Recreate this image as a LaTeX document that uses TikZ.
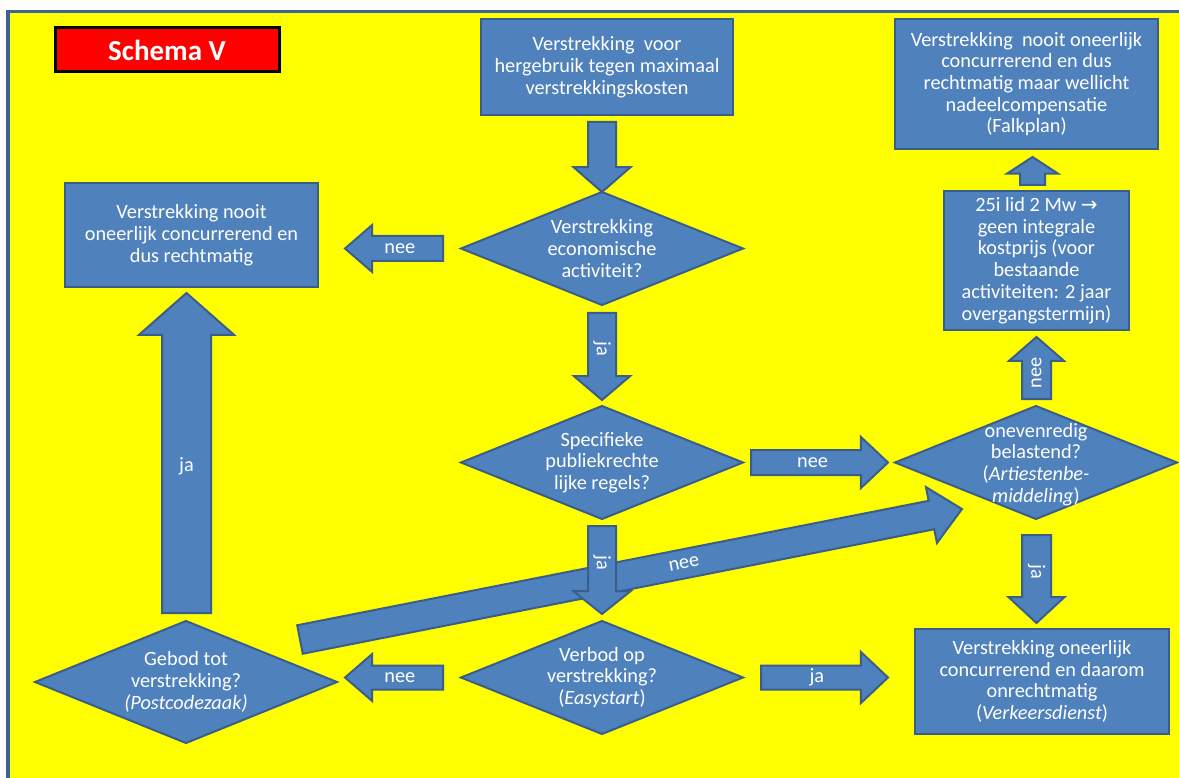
\documentclass[tikz,border=0pt]{standalone}
\usepackage{fontspec}
\setmainfont{Carlito}
\newfontfamily\arrowfont{DejaVu Sans}
\usetikzlibrary{shapes.geometric,shapes.arrows,calc}

\definecolor{boxfill}{HTML}{4F81BD}
\definecolor{boxline}{HTML}{3A5E8C}
\definecolor{framecol}{HTML}{42638F}
\definecolor{sheet}{HTML}{FFFF00}

\begin{document}
\begin{tikzpicture}[x=1pt,y=-1pt,
  every node/.style={outer sep=0pt},
  txt/.style={text=white, font=\fontsize{20.3}{21.7}\selectfont, align=center},
  box/.style={txt, rectangle, draw=boxline, fill=boxfill, line width=2pt, inner sep=0pt},
  decision/.style={diamond, draw=boxline, fill=boxfill, line width=2pt, inner sep=0pt,
                   minimum width=282pt, minimum height=113pt},
  dtext/.style={txt, inner sep=0pt},
  barrow/.style={single arrow, draw=boxline, fill=boxfill, line width=2pt, inner xsep=0pt,
                 single arrow head indent=0pt},
  albl/.style={txt, inner sep=0pt},
  titlebox/.style={draw=black, fill=red, line width=3pt, inner sep=0pt, text=white,
                   font=\fontsize{29}{30}\selectfont\bfseries}
]
\useasboundingbox (0,0) rectangle (1179,778);
% sheet with its frame
\fill[white] (0,0) rectangle (1179,778);
\fill[framecol] (6,10) rectangle (1179,778);
\fill[sheet] (10,13) rectangle (1179,778);

% title
\node[titlebox, minimum width=224pt, minimum height=44pt] (title) at (167,50) {Schema V};

% boxes
\node[box, minimum width=252pt, minimum height=96pt] (start) at (607,67)
  {Verstrekking\ \ voor\\hergebruik tegen maximaal\\verstrekkingskosten};
\node[box, minimum width=263pt, minimum height=130pt] (falk) at (1026.5,84)
  {Verstrekking\ \ nooit oneerlijk\\concurrerend en dus\\rechtmatig maar wellicht\\nadeelcompensatie\\(Falkplan)};
\node[box, minimum width=253pt, minimum height=104pt] (fair) at (191.5,235)
  {Verstrekking nooit\\oneerlijk concurrerend en\\dus rechtmatig};
\node[box, minimum width=185pt, minimum height=139pt] (cost) at (1036.5,260.5)
  {25i lid 2 Mw {\arrowfont\fontsize{20}{20}\selectfont →}\\geen integrale\\kostprijs (voor\\bestaande\\activiteiten: 2 jaar\\overgangstermijn)};
\node[box, minimum width=254pt, minimum height=105pt] (unfair) at (1042,681.5)
  {Verstrekking oneerlijk\\concurrerend en daarom\\onrechtmatig\\(\textit{Verkeersdienst})};

% decisions
\node[decision, label={[dtext]center:{Verstrekking\\economische\\activiteit?}}] (econ) at (602,248.5) {};
\node[decision, label={[dtext]center:{Specifieke\\publiekrechte\\lijke regels?}}] (rules) at (602,462.5) {};
\node[decision, label={[dtext, yshift=-2pt]center:{onevenredig\\belastend?\\(\textit{Artiestenbe-}\\\textit{middeling})}}] (burden) at (1036,462.5) {};
\node[decision, label={[dtext]center:{Verbod op\\verstrekking?\\(\textit{Easystart})}}] (ban) at (602,677.5) {};
\node[decision, minimum width=302pt, minimum height=122pt,
      label={[dtext]center:{Gebod tot\\verstrekking?\\\textit{(Postcodezaak)}}}] (duty) at (186,682) {};

% block arrows (inner ysep = half the shaft width)
\node[barrow, rotate=-90, anchor=tip, minimum height=70pt, inner ysep=13pt,
      single arrow head extend=14.5pt, single arrow tip angle=97.8] (a1) at (econ.north) {};

\node[barrow, rotate=180, anchor=tail, minimum height=98pt, inner ysep=11.5pt,
      single arrow head extend=11pt, single arrow tip angle=81.7] (a2) at ([shift={(-18,0)}]econ.west) {};
\node[albl] at ($(a2.tail)!0.44!(a2.tip)$) {nee};

\node[barrow, rotate=-90, anchor=tail, minimum height=87pt, inner ysep=13pt,
      single arrow head extend=14pt, single arrow tip angle=99.2] (a3) at ([shift={(0,8)}]econ.south) {};
\node[albl, rotate=-90] at ($(a3.tail)!0.41!(a3.tip)$) {ja};

\node[barrow, anchor=tail, minimum height=137pt, inner ysep=11.5pt,
      single arrow head extend=13pt, single arrow tip angle=86.6] (a4) at ([shift={(8,0)}]rules.east) {};
\node[albl] at ($(a4.tail)!0.45!(a4.tip)$) {nee};

% the long diagonal connector from the duty question to the burden question
\coordinate (ntail) at ([shift={(38.5,-12)}]duty.north east);
\coordinate (ntip) at ([shift={(-3.5,18.25)}]burden.south west);
\path let \p1=(ntail), \p2=(ntip),
  \n1={atan2(\y2-\y1,\x2-\x1)}, \n2={veclen(\x2-\x1,\y2-\y1)} in
  node[barrow, rotate=\n1, anchor=tail, minimum height=\n2, inner ysep=13.5pt,
       single arrow head extend=14pt, single arrow tip angle=85] (a12) at (ntail) {}
  node[albl, rotate=\n1] at ($(ntail)!0.58!(ntip)$) {nee};

\node[barrow, rotate=-90, anchor=tail, minimum height=88pt, inner ysep=13pt,
      single arrow head extend=14.5pt, single arrow tip angle=102.7] (a5) at ([shift={(0,7)}]rules.south) {};
\node[albl, rotate=-90] at ($(a5.tail)!0.42!(a5.tip)$) {ja};

\node[barrow, rotate=180, anchor=tail, minimum height=98pt, inner ysep=11pt,
      single arrow head extend=11.5pt, single arrow tip angle=81.7] (a6) at ([shift={(-18,0)}]ban.west) {};
\node[albl] at ($(a6.tail)!0.44!(a6.tip)$) {nee};

\node[barrow, anchor=tail, minimum height=127pt, inner ysep=11pt,
      single arrow head extend=13.5pt, single arrow tip angle=86.6] (a7) at ([shift={(18,0)}]ban.east) {};
\node[albl] at ($(a7.tail)!0.44!(a7.tip)$) {ja};

\node[barrow, rotate=90, anchor=tail, minimum height=320pt, inner ysep=23.5pt,
      single arrow head extend=23pt, single arrow tip angle=97.2] (a8) at ([shift={(0.5,-8)}]duty.north) {};
\node[albl] at ($(a8.tail)!0.46!(a8.tip)$) {ja};

\node[barrow, rotate=90, anchor=tail, minimum height=62pt, inner ysep=13.5pt,
      single arrow head extend=13pt, single arrow tip angle=98] (a9) at ([shift={(0.5,-7)}]burden.north) {};
\node[albl, rotate=90] at ($(a9.tail)!0.42!(a9.tip)$) {nee};

\node[barrow, rotate=-90, anchor=tail, minimum height=88pt, inner ysep=13.5pt,
      single arrow head extend=13.5pt, single arrow tip angle=94.4] (a10) at ([shift={(0.5,16)}]burden.south) {};
\node[albl, rotate=-90] at ($(a10.tail)!0.42!(a10.tip)$) {ja};

\node[barrow, rotate=90, anchor=tail, minimum height=28pt, inner ysep=11.5pt,
      single arrow head extend=13pt, single arrow tip angle=113.7] (a11) at ([shift={(-4,-6)}]cost.north) {};
\end{tikzpicture}
\end{document}
